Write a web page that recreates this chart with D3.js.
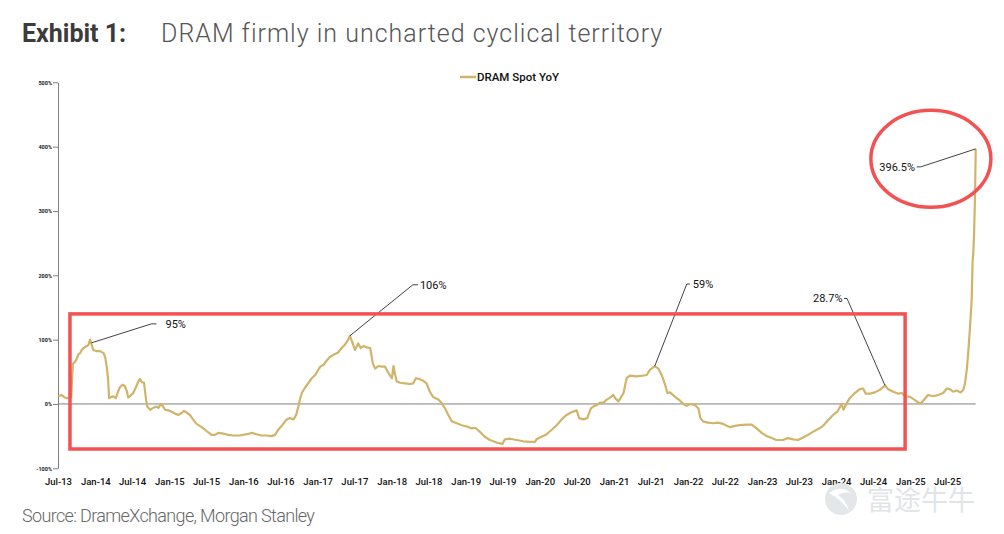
<!DOCTYPE html>
<html><head><meta charset="utf-8">
<script src="https://cdn.jsdelivr.net/npm/d3@7"></script>
<style>body{margin:0;background:#fff}svg{display:block}</style>
</head><body>
<svg id="c" width="1004" height="534"></svg>
<script>
// ---- DATA ----
const dates = [
"2013-07-02","2013-07-19","2013-07-30","2013-08-13","2013-09-04","2013-09-12","2013-09-24","2013-10-02","2013-10-10","2013-10-18","2013-10-26","2013-11-04","2013-11-20","2013-11-28","2013-12-06","2013-12-14","2013-12-22",
"2014-01-09","2014-01-25","2014-02-11","2014-02-19","2014-02-27","2014-03-05","2014-03-10","2014-03-22","2014-03-30","2014-04-12","2014-04-24","2014-05-02","2014-05-15","2014-05-26","2014-06-05","2014-06-12","2014-06-24","2014-07-07","2014-07-20","2014-08-01","2014-08-09","2014-08-17","2014-08-29","2014-09-08","2014-09-14","2014-09-28","2014-10-14","2014-10-30","2014-11-08","2014-11-20","2014-11-29","2014-12-11","2014-12-27",
"2015-01-13","2015-01-29","2015-02-15","2015-03-02","2015-03-13","2015-03-26","2015-04-12","2015-04-28","2015-05-15","2015-06-09","2015-07-03","2015-07-28","2015-08-14","2015-08-30","2015-09-24","2015-10-18","2015-11-12","2015-12-15",
"2016-01-18","2016-02-12","2016-03-06","2016-03-31","2016-04-25","2016-05-19","2016-06-05","2016-06-21","2016-07-08","2016-07-29","2016-08-15","2016-09-04","2016-09-17","2016-09-28","2016-10-07","2016-10-15","2016-11-01","2016-12-03","2016-12-20",
"2017-01-14","2017-01-30","2017-02-16","2017-03-02","2017-03-18","2017-04-12","2017-04-29","2017-05-15","2017-06-01","2017-06-09","2017-06-20","2017-07-04","2017-07-20","2017-08-01","2017-08-14","2017-08-31","2017-09-17","2017-09-30","2017-10-11","2017-10-27","2017-11-13","2017-11-29","2017-12-16",
"2018-01-02","2018-01-10","2018-01-18","2018-01-26","2018-02-12","2018-03-07","2018-04-01","2018-04-17","2018-04-30","2018-05-16","2018-06-06","2018-06-22","2018-07-08","2018-07-24","2018-08-19","2018-09-05","2018-09-21","2018-10-07","2018-10-24","2018-11-18","2018-12-12",
"2019-01-07","2019-01-31","2019-02-16","2019-03-11","2019-04-05","2019-04-30","2019-06-02","2019-07-01","2019-07-13","2019-08-07","2019-09-09","2019-10-11","2019-11-14","2019-12-08","2019-12-16",
"2020-01-10","2020-02-04","2020-02-29","2020-03-24","2020-04-18","2020-05-12","2020-06-06","2020-07-01","2020-07-13","2020-08-03","2020-08-22","2020-09-09","2020-09-21","2020-10-08","2020-10-24","2020-11-10","2020-11-23","2020-12-09","2020-12-29",
"2021-01-07","2021-01-23","2021-02-17","2021-03-04","2021-03-20","2021-04-22","2021-05-24","2021-06-11","2021-06-27","2021-07-21","2021-08-07","2021-08-24","2021-09-10","2021-09-21","2021-10-04","2021-10-29","2021-11-23","2021-12-09","2021-12-25",
"2022-01-11","2022-02-05","2022-02-21","2022-03-03","2022-03-16","2022-04-10","2022-05-04","2022-05-29","2022-06-23","2022-07-25","2022-08-20","2022-09-14","2022-10-17","2022-11-11","2022-12-05","2022-12-30",
"2023-01-24","2023-02-18","2023-03-12","2023-04-14","2023-05-09","2023-06-03","2023-06-27","2023-07-22","2023-08-16","2023-09-10","2023-10-04","2023-10-29","2023-11-23","2023-12-17",
"2024-01-07","2024-01-28","2024-02-06","2024-02-22","2024-03-08","2024-04-02","2024-04-27","2024-05-13","2024-05-26","2024-06-15","2024-07-10","2024-08-04","2024-08-29","2024-09-14","2024-10-09","2024-11-03","2024-11-20","2024-12-06","2024-12-30",
"2025-01-24","2025-02-10","2025-02-22","2025-03-05","2025-03-29","2025-04-23","2025-05-18","2025-06-12","2025-06-29","2025-07-14","2025-07-31","2025-08-17","2025-09-06","2025-09-19","2025-09-27","2025-10-06","2025-10-13","2025-10-22","2025-10-30","2025-11-04","2025-11-07","2025-11-11","2025-11-16","2025-11-19"
];
const dramSpotYoY = [
12,14,11,9,10,62,66,71,77,79,84,87,90,92,100,92,84,
82,82,79,72,56,38,9,11,12,9,20,26,30,28,20,10,13,17,26,35,39,34,33,7,-4,-9,-6,-4,-6,0,-3,-9,-10,
-12,-15,-17,-14,-11,-13,-17,-24,-31,-36,-42,-48,-48,-45,-46,-48,-49,-49,
-47,-45,-47,-49,-49,-50,-48,-40,-34,-25,-22,-24,-17,-4,9,17,26,40,45,
58,61,68,73,76,80,87,92,100,106,97,84,94,87,90,88,87,63,55,59,58,58,48,
40,59,45,35,33,32,31,32,40,39,36,32,19,11,7,1,-7,-17,-27,-30,-33,
-35,-38,-37,-43,-51,-56,-60,-62,-55,-54,-56,-58,-59,-59,-55,
-51,-47,-40,-33,-24,-17,-13,-10,-22,-24,-22,-7,-4,-2,2,2,6,9,14,
9,4,17,40,44,43,44,45,53,59,55,45,30,17,18,11,5,0,-3,
0,-2,-7,-22,-27,-29,-30,-29,-31,-36,-34,-33,-32,-32,-38,-45,
-50,-53,-56,-56,-53,-55,-56,-52,-48,-43,-39,-34,-25,-17,
-12,0,-9,1,9,17,23,24,16,16,18,22,28.7,23,19,16,17,12,11,
6,2,1,5,14,12,14,17,24,23,19,21,18,22,32,53,79,120,162,224,234,265,328,396.5
];
const seriesName = "DRAM Spot YoY";
const yTicks = [-100, 0, 100, 200, 300, 400, 500];
const xTickDates = ["2013-07-01","2014-01-01","2014-07-01","2015-01-01","2015-07-01","2016-01-01","2016-07-01","2017-01-01","2017-07-01","2018-01-01","2018-07-01","2019-01-01","2019-07-01","2020-01-01","2020-07-01","2021-01-01","2021-07-01","2022-01-01","2022-07-01","2023-01-01","2023-07-01","2024-01-01","2024-07-01","2025-01-01","2025-07-01"];
const xTickLabels = ["Jul-13","Jan-14","Jul-14","Jan-15","Jul-15","Jan-16","Jul-16","Jan-17","Jul-17","Jan-18","Jul-18","Jan-19","Jul-19","Jan-20","Jul-20","Jan-21","Jul-21","Jan-22","Jul-22","Jan-23","Jul-23","Jan-24","Jul-24","Jan-25","Jul-25"];
const annLabels = ["95%","106%","59%","28.7%","396.5%"];
const annDates = ["2013-12-13","2017-06-09","2021-07-21","2024-08-29","2025-11-19"];
const annValues = [95,106,59,28.7,396.5];

// ---- LAYOUT / STYLE ----
const annLayout = [ // elbow offset from anchor, tail length, text gap
  {dx:60, dy:-19, tail:5, gap:9},
  {dx:63, dy:-51, tail:5, gap:2},
  {dx:32, dy:-82, tail:3, gap:3},
  {dx:-38, dy:-87, tail:-3, gap:1.5},
  {dx:-55, dy:18, tail:-4, gap:1.7}
];
const GOLD = "#cfb46a", RED = "#f25252", AXIS = "#7f7f7f";
const FONT = "Roboto, 'Liberation Sans', sans-serif";

const parse = d3.timeParse("%Y-%m-%d");
const data = dates.map((d,i) => ({date: parse(d), v: dramSpotYoY[i]}));

const x = d3.scaleTime().domain([parse("2013-07-01"), parse("2025-11-19")]).range([58, 975.7]);
const y = d3.scaleLinear().domain([-100, 500]).range([468.3, 82.3]);

const svg = d3.select("#c").attr("font-family", FONT);

// title
svg.append("text").attr("x", 22).attr("y", 42).attr("font-size", 25).attr("font-weight", 700)
  .attr("fill", "#3b3b3b").text("Exhibit 1:");
svg.append("text").attr("x", 161).attr("y", 42).attr("font-size", 25).attr("font-weight", 300)
  .attr("letter-spacing", 1).attr("fill", "#555").text("DRAM firmly in uncharted cyclical territory");

// y axis
const yAxis = d3.axisLeft(y).tickValues(yTicks).tickSize(5).tickSizeOuter(0).tickPadding(1)
  .tickFormat(d => d + "%");
const gy = svg.append("g").attr("transform", "translate(58,0)").call(yAxis);
gy.select(".domain").attr("stroke", AXIS);
gy.selectAll(".tick line").attr("stroke", AXIS);
gy.selectAll(".tick text").attr("font-size", 5.5).attr("font-weight", 700).attr("fill", "#222")
  .attr("font-family", FONT);

// x axis labels
const xAxis = d3.axisBottom(x).tickValues(xTickDates.map(parse)).tickSize(0).tickPadding(3)
  .tickFormat((d,i) => xTickLabels[i]);
const gx = svg.append("g").attr("transform", "translate(0,475)").call(xAxis);
gx.select(".domain").remove();
gx.selectAll(".tick text").attr("font-size", 9.5).attr("font-weight", 500).attr("fill", "#111")
  .attr("font-family", FONT);

// zero line
svg.append("line").attr("x1", x.range()[0]).attr("x2", x.range()[1])
  .attr("y1", y(0)).attr("y2", y(0)).attr("stroke", AXIS).attr("stroke-width", 1);

// series line
const line = d3.line().x(d => x(d.date)).y(d => y(d.v));
svg.append("path").datum(data).attr("d", line).attr("fill", "none")
  .attr("stroke", GOLD).attr("stroke-width", 2.2).attr("stroke-linejoin", "round");

// legend
svg.append("line").attr("x1", 460).attr("x2", 476).attr("y1", 77).attr("y2", 77)
  .attr("stroke", GOLD).attr("stroke-width", 2.5);
svg.append("text").attr("x", 477).attr("y", 81).attr("font-size", 11.5).attr("font-weight", 500)
  .attr("fill", "#111").text(seriesName);

// annotations
annLabels.forEach((lab, i) => {
  const ax = x(parse(annDates[i])), ay = y(annValues[i]);
  const L = annLayout[i];
  const ex = ax + L.dx, ey = ay + L.dy, tx = ex + L.tail;
  const dir = L.tail > 0 ? 1 : -1;
  svg.append("path").attr("d", `M${ax},${ay}L${ex},${ey}L${tx},${ey}`)
    .attr("fill", "none").attr("stroke", "#111").attr("stroke-width", 0.8);
  svg.append("text").attr("x", tx + dir * L.gap)
    .attr("y", ey).attr("dy", "0.36em").attr("font-size", 11)
    .attr("text-anchor", dir > 0 ? "start" : "end").attr("fill", "#111").text(lab);
});

// highlight box and ellipse
const bx0 = x(parse("2013-08-29")), bx1 = x(parse("2024-12-06"));
svg.append("rect").attr("x", bx0).attr("y", y(140)).attr("width", bx1 - bx0).attr("height", y(-70) - y(140))
  .attr("fill", "none").attr("stroke", RED).attr("stroke-width", 3.5);
svg.append("ellipse").attr("cx", x(parse("2025-04-12"))).attr("cy", y(381)).attr("rx", 60).attr("ry", 48.5)
  .attr("fill", "none").attr("stroke", RED).attr("stroke-width", 3.5);

// source
svg.append("text").attr("x", 22).attr("y", 522).attr("font-size", 18).attr("font-weight", 300)
  .attr("letter-spacing", -0.65).attr("fill", "#666").text("Source: DrameXchange, Morgan Stanley");

// watermark
svg.append("circle").attr("cx", 841).attr("cy", 499).attr("r", 16).attr("fill", "#e4e7ea");
svg.append("path").attr("d", "M829,493 Q841,484 852,494 Q846,490 838,495 Q846,500 849,511 Q842,500 829,493 Z")
  .attr("fill", "#fff");
svg.append("text").attr("x", 867).attr("y", 510).attr("font-size", 27)
  .attr("font-family", "'Noto Sans CJK SC', sans-serif").attr("fill", "#e2e5e8").text("富途牛牛");
</script>
</body></html>
